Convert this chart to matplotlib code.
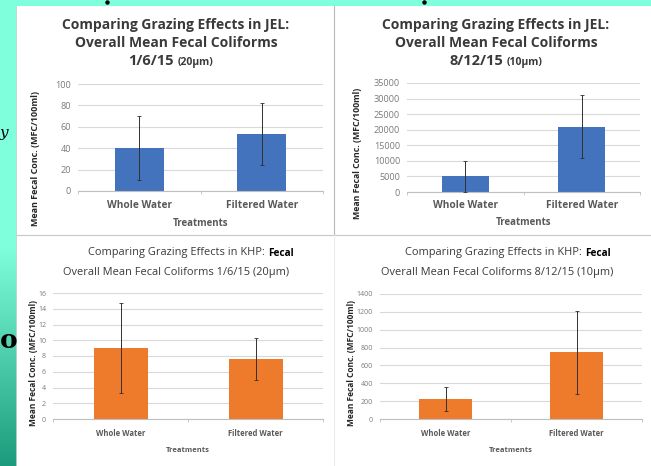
import matplotlib
matplotlib.use("Agg")
import matplotlib.pyplot as plt
import matplotlib.transforms as mtransforms
import numpy as np
from matplotlib.patches import Rectangle
from matplotlib.lines import Line2D

W, H = 651, 466

# Grazing experiment results: mean fecal coliforms with error bars
treatments = ["Whole Water", "Filtered Water"]

jel_jan_mean = [40, 53]
jel_jan_err = [30, 29]

jel_aug_mean = [5000, 21000]
jel_aug_err = [5000, 10000]

khp_jan_mean = [9.0, 7.6]
khp_jan_err = [5.7, 2.7]

khp_aug_mean = [225, 750]
khp_aug_err = [130, 465]

jel_jan_ticks = [0, 20, 40, 60, 80, 100]
jel_aug_ticks = [0, 5000, 10000, 15000, 20000, 25000, 30000, 35000]
khp_jan_ticks = [0, 2, 4, 6, 8, 10, 12, 14, 16]
khp_aug_ticks = [0, 200, 400, 600, 800, 1000, 1200, 1400]

BLUE = "#4473bd"
ORANGE = "#ee7b2c"
TXT = "#3a3a3a"
GRID = "#d9d9d9"
FONT = "Open Sans"


def fx(x):
    return x / W


def fy(y):
    return 1 - y / H


def px_axes(fig, left, top, right, bottom):
    return fig.add_axes([fx(left), fy(bottom), (right - left) / W, (bottom - top) / H])


def bar_panel(ax, means, errs, ticks, color, tick_fs):
    x = np.arange(len(treatments))
    ax.bar(x, means, width=0.4, color=color, zorder=2)
    ax.errorbar(x, means, yerr=errs, fmt="none", ecolor="#303030",
                elinewidth=0.7, capsize=1.2, capthick=0.6, zorder=3)
    ax.set_xlim(-0.5, 1.5)
    ax.set_ylim(ticks[0], ticks[-1])
    ax.set_yticks(ticks)
    ax.set_yticklabels([str(t) for t in ticks], fontsize=tick_fs,
                       color="#7a7a7a", family=FONT)
    ax.set_xticks(x)
    ax.set_xticklabels([])
    ax.set_xticks([-0.5, 0.5, 1.5], minor=True)
    ax.tick_params(axis="x", which="major", length=0)
    ax.tick_params(axis="x", which="minor", length=2.5, color="#bfbfbf")
    ax.tick_params(axis="y", length=0, pad=5)
    ax.grid(axis="y", color=GRID, linewidth=0.8, zorder=0)
    ax.set_axisbelow(True)
    for s in ("left", "right", "top"):
        ax.spines[s].set_visible(False)
    ax.spines["bottom"].set_color("#bfbfbf")
    ax.spines["bottom"].set_linewidth(0.8)
    ax.patch.set_alpha(0)


fig = plt.figure(figsize=(W / 100, H / 100), dpi=100, facecolor="#80ffdc")

# Slide background strip on the left: aqua fading into teal
grad_ax = fig.add_axes([0, 0, fx(17), 1])
rows = np.linspace(0, 1, 256)
c_top = np.array([0x80, 0xff, 0xdc]) / 255
c_bot = np.array([0x1c, 0x9c, 0x7c]) / 255
t = np.clip((rows - 0.53) / 0.47, 0, 1)[:, None]
grad = c_top * (1 - t) + c_bot * t
grad_ax.imshow(grad[:, None, :], aspect="auto", extent=[0, 1, 1, 0])
grad_ax.set_axis_off()

# White panel holding the four charts
fig.add_artist(Rectangle((fx(16), 0), 1 - fx(16), fy(6), transform=fig.transFigure,
                         facecolor="white", edgecolor="none", zorder=0))
fig.add_artist(Line2D([fx(16), 1], [fy(235), fy(235)], transform=fig.transFigure,
                      color="#c8c8c8", linewidth=0.8))
fig.add_artist(Line2D([fx(334), fx(334)], [fy(6), fy(235)], transform=fig.transFigure,
                      color="#b8b8b8", linewidth=0.8))
fig.add_artist(Line2D([fx(334), fx(334)], [fy(235), 0], transform=fig.transFigure,
                      color="#ececec", linewidth=0.8))
fig.add_artist(Line2D([fx(16), fx(16)], [fy(6), 0], transform=fig.transFigure,
                      color="#d0d0d0", linewidth=0.6))

# Leftover slide text peeking in at the edges
fig.text(fx(0), fy(133), "y", fontsize=11, family="DejaVu Serif", style="italic",
         ha="left", va="center", color="black")
fig.text(fx(0), fy(341), "o", fontsize=19, family="DejaVu Serif", weight="bold",
         ha="left", va="center", color="black")
for dx in (107, 424):
    fig.add_artist(Line2D([fx(dx)], [fy(2)], transform=fig.transFigure, marker="o",
                          markersize=2.2, color="black", linestyle="none"))

# JEL 1/6/15
ax1 = px_axes(fig, 78, 84, 323, 191)
bar_panel(ax1, jel_jan_mean, jel_jan_err, jel_jan_ticks, BLUE, 6.6)
# JEL 8/12/15
ax2 = px_axes(fig, 407, 83, 640, 192)
bar_panel(ax2, jel_aug_mean, jel_aug_err, jel_aug_ticks, BLUE, 6.6)
# KHP 1/6/15
ax3 = px_axes(fig, 53, 293, 323, 419)
bar_panel(ax3, khp_jan_mean, khp_jan_err, khp_jan_ticks, ORANGE, 5.0)
# KHP 8/12/15
ax4 = px_axes(fig, 380, 294, 642, 419)
bar_panel(ax4, khp_aug_mean, khp_aug_err, khp_aug_ticks, ORANGE, 5.0)

# category names and axis titles
for ax, tick_y, lab_y, fs, lfs in ((ax1, 206, 223, 7.3, 7.0), (ax2, 206, 222, 7.3, 7.0),
                                   (ax3, 433, 450, 5.5, 5.4), (ax4, 434, 450, 5.5, 5.4)):
    trans = mtransforms.blended_transform_factory(ax.transData, fig.transFigure)
    for i, name in enumerate(treatments):
        ax.text(i, fy(tick_y), name, transform=trans, fontsize=fs, ha="center",
                va="center", color="#595959", family=FONT, weight="bold")
    pos = ax.get_position()
    fig.text(pos.x0 + pos.width / 2, fy(lab_y), "Treatments", fontsize=lfs,
             ha="center", va="center", color="#595959", family=FONT, weight="bold")

ylab = "Mean Fecal Conc. (MFC/100ml)"
for x, y, fs in ((36, 159, 6.5), (358, 153, 6.3), (33, 363, 6.0), (352, 363, 6.0)):
    fig.text(fx(x), fy(y), ylab, rotation=90, fontsize=fs, ha="center", va="center",
             color="#262626", family=FONT, weight="bold")

# Chart titles, top row
for cx, line3, unit, split in ((176, "1/6/15", "(20µm)", 174),
                               (496, "8/12/15", "(10µm)", 503)):
    fig.text(fx(cx), fy(25), "Comparing Grazing Effects in JEL:", fontsize=10,
             weight="bold", family=FONT, color=TXT, ha="center", va="center")
    fig.text(fx(cx), fy(43), "Overall Mean Fecal Coliforms", fontsize=10,
             weight="bold", family=FONT, color=TXT, ha="center", va="center")
    fig.text(fx(split), fy(61), line3, fontsize=10.5, weight="bold",
             family=FONT, color=TXT, ha="right", va="center")
    fig.text(fx(split + 4), fy(62), unit, fontsize=7.5, weight="bold",
             family=FONT, color=TXT, ha="left", va="center")

# Chart titles, bottom row
for x_end, cx2, line2 in ((265, 176, "Overall Mean Fecal Coliforms 1/6/15 (20µm)"),
                          (582, 497, "Overall Mean Fecal Coliforms 8/12/15 (10µm)")):
    fig.text(fx(x_end), fy(253), "Comparing Grazing Effects in KHP:", fontsize=7.9,
             family=FONT, color=TXT, ha="right", va="center")
    fig.text(fx(x_end + 3), fy(253), "Fecal", fontsize=7.2, weight="bold",
             family=FONT, color="black", ha="left", va="center")
    fig.text(fx(cx2), fy(272), line2, fontsize=7.9, family=FONT, color=TXT,
             ha="center", va="center")

fig.savefig("out.png", dpi=100, facecolor=fig.get_facecolor())
